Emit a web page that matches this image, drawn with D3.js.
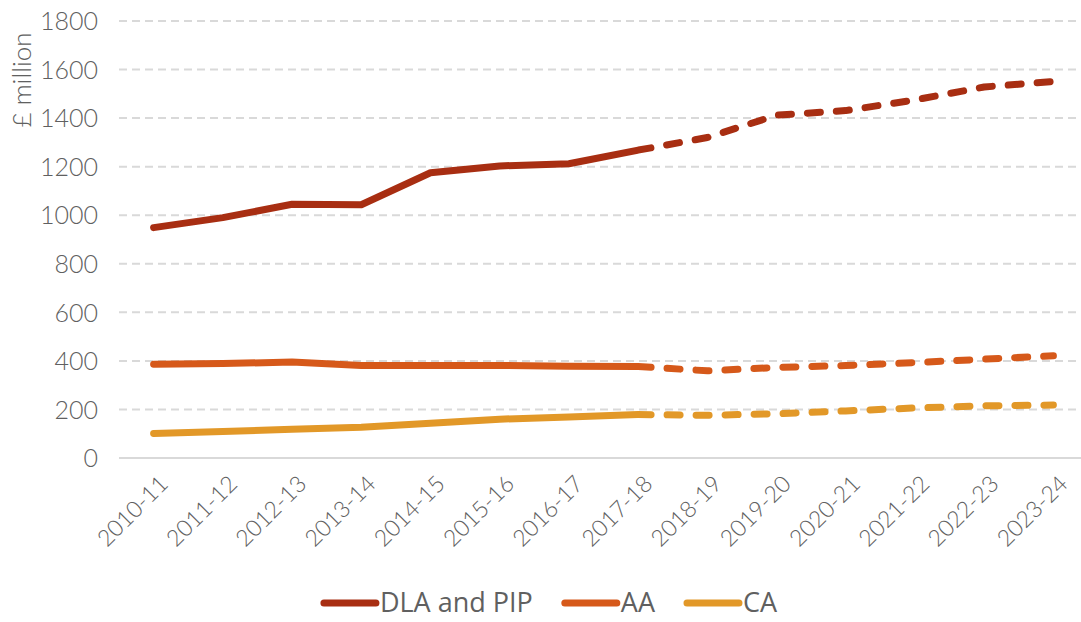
<!DOCTYPE html>
<html><head><meta charset="utf-8">
<script src="https://cdn.jsdelivr.net/npm/d3@7"></script>
<style>
html,body{margin:0;padding:0;background:#fff;}
svg{display:block;}
</style></head>
<body>
<svg id="chart" width="1081" height="622"></svg>
<script>
const categories = ["2010-11","2011-12","2012-13","2013-14","2014-15","2015-16","2016-17","2017-18","2018-19","2019-20","2020-21","2021-22","2022-23","2023-24"];
const dlaPip = [949, 990, 1045, 1043, 1175, 1203, 1212, 1268, 1320, 1412, 1431, 1475, 1528, 1551];
const aa     = [386, 389, 395, 381, 381, 381, 378, 377, 359, 373, 381, 393, 407, 421];
const ca     = [101, 109, 118, 127, 143, 160, 169, 179, 176, 182, 194, 206, 215, 218];
const seriesNames = ["DLA and PIP", "AA", "CA"];
const seriesColors = ["#A82E12", "#D6591A", "#E29828"];
const yTicks = [0, 200, 400, 600, 800, 1000, 1200, 1400, 1600, 1800];
const lastActualIndex = 7;

const svg = d3.select("#chart");
const W = 1081, H = 622;
const x = d3.scalePoint().domain(categories).range([119, 1088]).padding(0.5);
const y = d3.scaleLinear().domain([0, 1800]).range([458, 21]);
const textColor = "#606060";
const fontFam = "Lato, 'Open Sans', sans-serif";

// gridlines
const grid = svg.append("g");
grid.selectAll("line").data(yTicks).join("line")
  .attr("x1", 119).attr("x2", W)
  .attr("y1", d => y(d)).attr("y2", d => y(d))
  .attr("stroke", "#d9d9d9").attr("stroke-width", 2)
  .attr("stroke-dasharray", d => d === 0 ? null : "8,5");

// y axis labels
const yAxis = d3.axisLeft(y).tickValues(yTicks).tickSize(0).tickPadding(0).tickFormat(d3.format("d"));
const yg = svg.append("g").attr("transform", "translate(98,0)").call(yAxis);
yg.select(".domain").remove();
yg.selectAll("text").attr("fill", textColor).style("font-family", fontFam).style("font-weight", "300").style("font-size", "25px").attr("dy", "0.35em");

svg.append("text")
  .attr("transform", "translate(31,80) rotate(-90)")
  .attr("text-anchor", "middle")
  .attr("fill", textColor).style("font-family", fontFam).style("font-weight", "300").style("font-size", "26px")
  .text("£ million");

// x axis labels
const xAxis = d3.axisBottom(x).tickSize(0).tickPadding(0);
const xg = svg.append("g").attr("transform", "translate(4,474)").call(xAxis);
xg.select(".domain").remove();
xg.selectAll("text")
  .attr("fill", textColor).style("font-family", fontFam).style("font-weight", "300").style("font-size", "23px")
  .attr("text-anchor", "end")
  .attr("dy", "0.7em").attr("dx", "0")
  .attr("transform", "rotate(-45)");

// lines
const line = d3.line().x((d, i) => x(categories[i])).y(d => y(d)).curve(d3.curveLinear);
const xSplit = x(categories[lastActualIndex]);
const defs = svg.append("defs");
defs.append("clipPath").attr("id", "clipSolid").append("rect").attr("x", 0).attr("y", 0).attr("width", xSplit).attr("height", H);
defs.append("clipPath").attr("id", "clipDash").append("rect").attr("x", xSplit).attr("y", 0).attr("width", W - xSplit).attr("height", H);

const allSeries = [dlaPip, aa, ca];
const sw = 7;
allSeries.slice().reverse().forEach((vals, ri) => {
  const i = allSeries.length - 1 - ri;
  const col = seriesColors[i];
  const g = svg.append("g");
  g.append("path").attr("d", line(vals)).attr("fill", "none").attr("stroke", col)
    .attr("stroke-width", sw).attr("stroke-linecap", "round").attr("stroke-linejoin", "round")
    .attr("clip-path", "url(#clipSolid)");
  const dp = g.append("path").attr("d", line(vals)).attr("fill", "none").attr("stroke", col)
    .attr("stroke-width", sw).attr("stroke-linecap", "round").attr("stroke-linejoin", "round")
    .attr("stroke-dasharray", "13,16");
  const node = dp.node();
  const total = node.getTotalLength();
  let lo = 0, hi = total;
  for (let k = 0; k < 40; k++) {
    const mid = (lo + hi) / 2;
    if (node.getPointAtLength(mid).x < xSplit) lo = mid; else hi = mid;
  }
  dp.attr("stroke-dashoffset", -lo);
  dp.attr("clip-path", "url(#clipDash)");
});

// legend
const legend = svg.append("g");
let lx = 0;
seriesNames.forEach((name, i) => {
  const g = legend.append("g").attr("transform", `translate(${lx},0)`);
  g.append("line").attr("x1", 4).attr("x2", 56).attr("y1", 0).attr("y2", 0)
    .attr("stroke", seriesColors[i]).attr("stroke-width", sw).attr("stroke-linecap", "round");
  const t = g.append("text").attr("x", 60).attr("y", 0).attr("dy", "0.35em")
    .attr("fill", textColor).style("font-family", "'Open Sans', sans-serif").style("font-size", "27px")
    .text(name);
  const w = t.node().getComputedTextLength();
  lx += 60 + w + 28;
});
const totalW = lx - 28;
legend.attr("transform", `translate(${(W - totalW) / 2 + 8},603)`);
</script>
</body></html>
